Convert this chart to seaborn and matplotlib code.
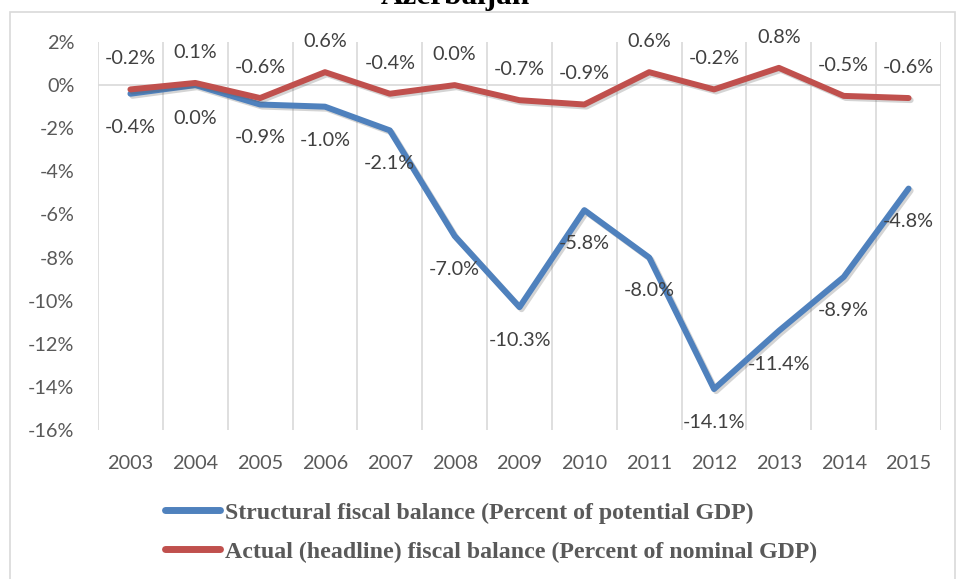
import matplotlib
matplotlib.use('Agg')
import matplotlib.pyplot as plt
import seaborn as sns
import pandas as pd
from matplotlib import patheffects as pe
from matplotlib.patches import Rectangle
from matplotlib.lines import Line2D

years = ['2003', '2004', '2005', '2006', '2007', '2008', '2009',
         '2010', '2011', '2012', '2013', '2014', '2015']
structural = [-0.4, 0.0, -0.9, -1.0, -2.1, -7.0, -10.3, -5.8, -8.0, -14.1, -11.4, -8.9, -4.8]
actual = [-0.2, 0.1, -0.6, 0.6, -0.4, 0.0, -0.7, -0.9, 0.6, -0.2, 0.8, -0.5, -0.6]
series_names = ['Structural fiscal balance (Percent of potential GDP)',
                'Actual (headline) fiscal balance (Percent of nominal GDP)']
y_ticks = [2, 0, -2, -4, -6, -8, -10, -12, -14, -16]
title = 'Azerbaijan'

colors = {series_names[0]: '#4F81BD', series_names[1]: '#C0504D'}

sns.set_theme(style='white')
plt.rcParams['font.family'] = ['Lato', 'DejaVu Sans']

W, H = 956, 579
fig = plt.figure(figsize=(W / 100, H / 100), dpi=100)

def fx(px):
    return px / W

def fy(py):
    return 1 - py / H

# chart border
fig.patches.append(Rectangle((fx(10), fy(600)), fx(945), (600 - 12) / H,
                             transform=fig.transFigure, fill=False,
                             edgecolor='#D9D9D9', lw=1.2))

ax = fig.add_axes([fx(98), fy(430), fx(941 - 98), (430 - 42) / H])

pos = list(range(len(years)))
df = pd.DataFrame({
    'pos': pos * 2,
    'value': structural + actual,
    'series': [series_names[0]] * len(years) + [series_names[1]] * len(years),
})

sns.lineplot(data=df, x='pos', y='value', hue='series', palette=colors,
             hue_order=series_names, lw=4.3, ax=ax, legend=False,
             solid_capstyle='round', solid_joinstyle='round')
for ln in ax.get_lines():
    ln.set_path_effects([pe.SimpleLineShadow(offset=(1.5, -1.5), alpha=0.25,
                                             shadow_color='#555555'),
                         pe.Normal()])

ax.set_xlim(-0.5, len(years) - 0.5)
ax.set_ylim(-16, 2)
ax.set_yticks(y_ticks)
ax.set_yticklabels([f'{v}%' for v in y_ticks])
ax.set_xticks(pos)
ax.set_xticklabels(years)
ax.tick_params(axis='y', length=0, pad=17, labelsize=14.3, labelcolor='#595959')
ax.tick_params(axis='x', length=0, pad=18, labelsize=14.3, labelcolor='#595959')
ax.set_xlabel('')
ax.set_ylabel('')
for s in ax.spines.values():
    s.set_visible(False)

for b in [p - 0.5 for p in range(len(years) + 1)]:
    ax.axvline(b, color='#D9D9D9', lw=1.2, zorder=0)
ax.axhline(0, color='#D9D9D9', lw=1.2, zorder=0)

for i in pos:
    ax.annotate(f'{structural[i]:.1f}%', (i, structural[i]), xytext=(0, -24),
                textcoords='offset points', ha='center', va='center',
                fontsize=14.3, color='#404040')
    ax.annotate(f'{actual[i]:.1f}%', (i, actual[i]), xytext=(0, 22),
                textcoords='offset points', ha='center', va='center',
                fontsize=14.3, color='#404040')

fig.text(fx(455), fy(4), title, ha='center', va='baseline', fontsize=22.5,
         fontweight='bold', family='Liberation Serif', color='black')

handles = [Line2D([0], [0], color=colors[n], lw=5, solid_capstyle='round') for n in series_names]
leg = fig.legend(handles, series_names, loc='upper left',
                 bbox_to_anchor=(fx(165), fy(502)), frameon=False,
                 handlelength=2.3, handletextpad=0.2, labelspacing=0.72,
                 borderpad=0, borderaxespad=0,
                 prop={'family': 'Liberation Serif', 'weight': 'bold', 'size': 17.2})
for t in leg.get_texts():
    t.set_color('#595959')

fig.savefig('out.png', dpi=100)
